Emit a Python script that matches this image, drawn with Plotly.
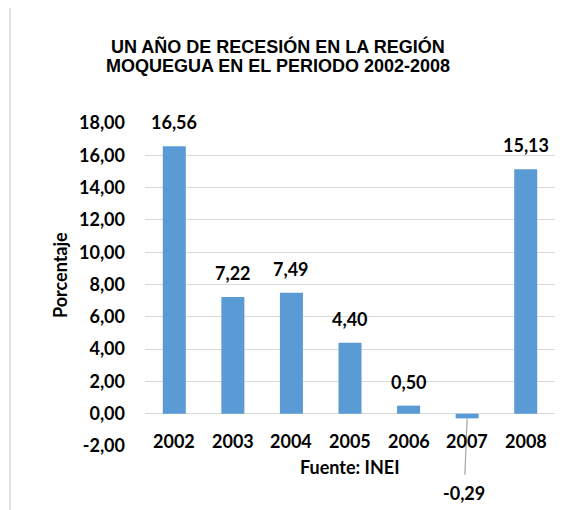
import plotly.graph_objects as go

years = ["2002", "2003", "2004", "2005", "2006", "2007", "2008"]
values = [16.56, 7.22, 7.49, 4.40, 0.50, -0.29, 15.13]
tick_vals = [-2, 0, 2, 4, 6, 8, 10, 12, 14, 16, 18]
tick_text = ["-2,00", "0,00", "2,00", "4,00", "6,00", "8,00", "10,00", "12,00", "14,00", "16,00", "18,00"]
title_lines = ["UN AÑO DE RECESIÓN EN LA REGIÓN", "MOQUEGUA EN EL PERIODO 2002-2008"]
y_title = "Porcentaje"
source = "Fuente: INEI"

OFF = 8  # page body margin
W, H = 583 - OFF, 510 - OFF
L, R, T, B = 145 - OFF, W - (555 - OFF), 123 - OFF, H - (446 - OFF)
PW, PH = W - L - R, H - T - B


def px(x):
    return (x - OFF - L) / PW


def py(y):
    return (H - B - (y - OFF)) / PH


def fmt(v):
    return f"{v:.2f}".replace(".", ",")


NUM_FONT = dict(family="Lato", size=18, color="#000000")
BAR = "#5B9BD5"
GRID = "#D9D9D9"

fig = go.Figure()
fig.add_trace(go.Bar(
    x=years, y=values, marker=dict(color=BAR, line=dict(width=0)),
    hoverinfo="skip",
))

annotations = []
for i, (yr, v) in enumerate(zip(years, values)):
    if v >= 0:
        annotations.append(dict(
            x=i, y=v, xref="x", yref="y", text=f"<b>{fmt(v)}</b>",
            showarrow=False, yanchor="middle", xanchor="center", yshift=24,
            font=NUM_FONT,
        ))
    else:
        annotations.append(dict(
            x=i, y=v, xref="x", yref="y", text=f"<b>{fmt(v)}</b>",
            showarrow=True, arrowhead=0, arrowwidth=1.2, arrowcolor="#A6A6A6",
            ax=-3, ay=75, startstandoff=6, font=NUM_FONT,
        ))
    annotations.append(dict(
        x=i, y=0, xref="x", yref="y", text=f"<b>{yr}</b>",
        showarrow=False, yanchor="middle", xanchor="center", yshift=-27,
        font=NUM_FONT,
    ))

annotations.append(dict(
    x=0.5, y=py(467), xref="paper", yref="paper", text=f"<b>{source}</b>",
    showarrow=False, xanchor="center", yanchor="middle",
    font=dict(family="Lato", size=18, color="#000000"),
))
annotations.append(dict(
    x=px(60), y=py(275), xref="paper", yref="paper", text=f"<b>{y_title}</b>",
    showarrow=False, xanchor="center", yanchor="middle", textangle=-90,
    font=dict(family="Lato", size=18, color="#000000"),
))
for line, yc in zip(title_lines, [47, 66]):
    annotations.append(dict(
        x=px(278), y=py(yc), xref="paper", yref="paper", text=f"<b>{line}</b>",
        showarrow=False, xanchor="center", yanchor="middle",
        font=dict(family="Liberation Sans", size=18, color="#000000"),
    ))

shapes = [
    dict(type="line", xref="paper", yref="paper", x0=px(10), x1=px(10), y0=py(5), y1=py(520),
         line=dict(color="#D9D9D9", width=1.5)),
    dict(type="line", xref="paper", yref="paper", x0=px(10), x1=px(600), y0=py(5), y1=py(5),
         line=dict(color="#D9D9D9", width=1.5)),
]

fig.update_layout(
    width=W, height=H,
    margin=dict(l=L, r=R, t=T, b=B, autoexpand=False),
    paper_bgcolor="white", plot_bgcolor="white",
    showlegend=False,
    bargap=0.607,
    annotations=annotations,
    shapes=shapes,
    xaxis=dict(type="category", range=[-0.5, 6.5], showticklabels=False, showgrid=False,
               zeroline=False, showline=False, ticks=""),
    yaxis=dict(range=[-2, 18], tickvals=tick_vals, ticktext=tick_text,
               showgrid=True, gridcolor=GRID, gridwidth=1.3,
               zeroline=True, zerolinecolor=GRID, zerolinewidth=1.3,
               showline=False, ticks="", ticklabelstandoff=19,
               tickfont=dict(family="Lato", size=18, color="#000000", weight="bold")),
)

fig.write_html("out.html")
